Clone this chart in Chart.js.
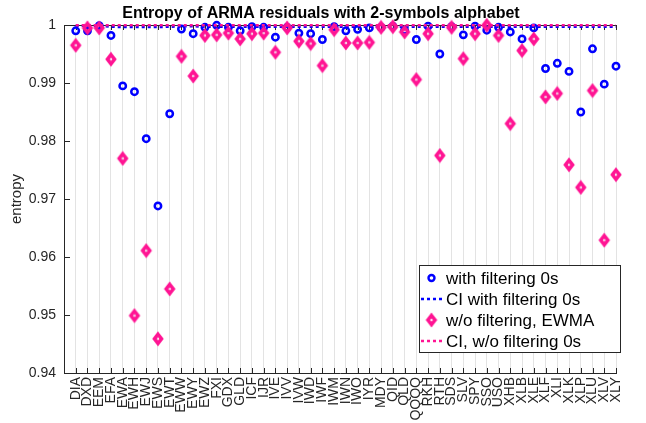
<!DOCTYPE html>
<html>
<head>
<meta charset="utf-8">
<script src="https://cdn.jsdelivr.net/npm/chart.js@4/dist/chart.umd.min.js"></script>
<style>
  html, body { margin: 0; padding: 0; background: #fff; }
  #wrap { width: 646px; height: 423px; }
</style>
</head>
<body>
<div id="wrap"><canvas id="entropy-chart" width="646" height="423"></canvas></div>
<script>
var symbols = ['DIA','DXD','EEM','EFA','EWA','EWH','EWJ','EWS','EWT','EWW','EWY','EWZ','FXI','GDX','GLD','ICF',
  'IJR','IVE','IVV','IVW','IWD','IWF','IWM','IWN','IWO','IYR','MDY','QID','QLD','QQQQ','RKH','RTH','SDS','SLV',
  'SPY','SSO','USO','XHB','XLB','XLE','XLF','XLI','XLK','XLP','XLU','XLV','XLY'];

// entropy with 0s filtered out
var entropyFiltered = [0.9990, 0.9990, 0.9999, 0.9982, 0.9895, 0.9885, 0.9804, 0.9688, 0.9847, 0.9993,
  0.9985, 0.9996, 0.99995, 0.9996, 0.9990, 0.9997, 0.9996, 0.9979, 0.9996, 0.9986, 0.9985, 0.9975, 0.9997,
  0.9990, 0.99925, 0.9995, 0.9996, 0.9998, 0.9991, 0.9975, 0.9998, 0.9950, 0.9997, 0.9983, 0.9998, 0.9991,
  0.9996, 0.9988, 0.9976, 0.9995, 0.9925, 0.9934, 0.9920, 0.9850, 0.9959, 0.9898, 0.9929];

// entropy without filtering, EWMA
var entropyEwma = [0.9965, 0.9995, 0.9995, 0.9941, 0.9770, 0.9499, 0.9611, 0.9459, 0.9545, 0.9946,
  0.9912, 0.9982, 0.9983, 0.9986, 0.9976, 0.9985, 0.9986, 0.9953, 0.9995, 0.9972, 0.9968, 0.9930, 0.9992,
  0.9969, 0.9969, 0.9970, 0.9996, 0.9997, 0.9988, 0.9906, 0.9985, 0.9775, 0.9996, 0.9942, 0.9985, 0.99995,
  0.9982, 0.9830, 0.9956, 0.9976, 0.9876, 0.9882, 0.9759, 0.9720, 0.9887, 0.9629, 0.9742];

// confidence bounds
var ciFiltered = [0.99985, 0.99985, 0.99985, 0.9997, 0.99965, 0.99965, 0.99965, 0.99965, 0.9997, 0.9998,
  0.9998, 0.9997, 0.9997, 0.9997, 0.9997, 0.9997, 0.9997, 0.9997, 0.9997, 0.9997, 0.9997, 0.9997, 0.9997,
  0.9997, 0.9997, 0.9997, 0.9997, 0.9997, 0.9997, 0.9997, 0.9997, 0.9997, 0.9997, 0.9997, 0.9997, 0.9997,
  0.9997, 0.9997, 0.9997, 0.9997, 0.9997, 0.9997, 0.9997, 0.9997, 0.9997, 0.9997, 0.9997];
var ciEwma = [0.99995, 0.99995, 0.99995, 0.99995, 0.99995, 0.99995, 0.99995, 0.99995, 0.99995, 0.99995,
  0.99995, 0.99995, 0.99995, 0.99995, 0.99995, 0.99995, 0.99995, 0.99995, 0.99995, 0.99995, 0.99995, 0.99995,
  0.99995, 0.99995, 0.99995, 0.99995, 0.99995, 0.99995, 0.99995, 0.99995, 0.99995, 0.99995, 0.99995, 0.99995,
  0.99995, 0.99995, 0.99995, 0.99995, 0.99995, 0.99995, 0.99995, 0.99995, 0.99995, 0.99995, 0.99995, 0.99995, 0.99995];

var yTicks = [0.94, 0.95, 0.96, 0.97, 0.98, 0.99, 1];

var BLUE = '#0000ff', PINK = '#ff1493', AXIS = '#262626';
var FONT = '"Liberation Sans", Arial, sans-serif';

function toPoints(values) {
  return values.map(function (v, i) { return { x: i + 1, y: v }; });
}

// tall diamond marker, thick outline with a tiny hollow centre
function makeDiamond(w, h, lw) {
  var c = document.createElement('canvas');
  c.width = w + lw * 2;
  c.height = h + lw * 2;
  var g = c.getContext('2d');
  var cx = c.width / 2, cy = c.height / 2;
  g.beginPath();
  g.moveTo(cx, cy - h / 2);
  g.lineTo(cx + w / 2, cy);
  g.lineTo(cx, cy + h / 2);
  g.lineTo(cx - w / 2, cy);
  g.closePath();
  g.lineWidth = lw;
  g.strokeStyle = PINK;
  g.lineJoin = 'miter';
  g.stroke();
  return c;
}
var diamond = makeDiamond(7, 9, 3.6);

var decorations = {
  id: 'decorations',
  beforeDatasetsDraw: function (chart) {
    var ctx = chart.ctx, a = chart.chartArea;
    var xs = chart.scales.x, ys = chart.scales.y;
    ctx.save();
    ctx.strokeStyle = AXIS;
    ctx.lineWidth = 1;
    // top axis line
    ctx.beginPath();
    ctx.moveTo(a.left, a.top + 0.5);
    ctx.lineTo(a.right, a.top + 0.5);
    ctx.stroke();
    // inward tick marks
    ctx.beginPath();
    for (var i = 0; i < symbols.length; i++) {
      var px = Math.round(xs.getPixelForValue(i + 1)) + 0.5;
      ctx.moveTo(px, a.bottom);
      ctx.lineTo(px, a.bottom - 5);
      ctx.moveTo(px, a.top);
      ctx.lineTo(px, a.top + 5);
    }
    yTicks.forEach(function (t) {
      var py = Math.round(ys.getPixelForValue(t)) + 0.5;
      ctx.moveTo(a.left, py);
      ctx.lineTo(a.left + 6, py);
    });
    ctx.stroke();
    ctx.restore();
  },
  afterDraw: function (chart) {
    var ctx = chart.ctx, a = chart.chartArea;
    ctx.save();

    // title
    ctx.fillStyle = '#000';
    ctx.font = 'bold 16px ' + FONT;
    ctx.textAlign = 'center';
    ctx.textBaseline = 'alphabetic';
    ctx.fillText('Entropy of ARMA residuals with 2-symbols alphabet', 321, 18);

    // y axis label
    ctx.fillStyle = AXIS;
    ctx.font = '15px ' + FONT;
    ctx.translate(17, (a.top + a.bottom) / 2);
    ctx.rotate(-Math.PI / 2);
    ctx.textBaseline = 'middle';
    ctx.fillText('entropy', 0, 0);
    ctx.setTransform(1, 0, 0, 1, 0, 0);

    // legend box
    var bx = 419.5, by = 265.5, bw = 201, bh = 87;
    ctx.fillStyle = '#fff';
    ctx.fillRect(bx, by, bw, bh);
    ctx.strokeStyle = AXIS;
    ctx.lineWidth = 1;
    ctx.strokeRect(bx, by, bw, bh);

    var rows = [
      { text: 'with filtering 0s', kind: 'circle', color: BLUE },
      { text: 'CI with filtering 0s', kind: 'line', color: BLUE },
      { text: 'w/o filtering, EWMA', kind: 'diamond', color: PINK },
      { text: 'CI, w/o filtering 0s', kind: 'line', color: PINK }
    ];
    var mx = 431.5;
    ctx.font = '17px ' + FONT;
    ctx.textAlign = 'left';
    ctx.textBaseline = 'middle';
    rows.forEach(function (r, i) {
      var ry = 278 + i * 21;
      if (r.kind === 'circle') {
        ctx.beginPath();
        ctx.arc(mx, ry, 3, 0, Math.PI * 2);
        ctx.strokeStyle = r.color;
        ctx.lineWidth = 2.4;
        ctx.stroke();
      } else if (r.kind === 'diamond') {
        ctx.drawImage(diamond, mx - diamond.width / 2, ry - diamond.height / 2);
      } else {
        ctx.beginPath();
        ctx.setLineDash([3, 3]);
        ctx.moveTo(421, ry);
        ctx.lineTo(442, ry);
        ctx.strokeStyle = r.color;
        ctx.lineWidth = 2.5;
        ctx.stroke();
        ctx.setLineDash([]);
      }
      ctx.fillStyle = '#000';
      ctx.fillText(r.text, 446, ry + 1);
    });
    ctx.restore();
  }
};

var chartOptions = {
  type: 'scatter',
  data: {
    datasets: [{
      label: 'with filtering 0s',
      data: toPoints(entropyFiltered),
      pointStyle: 'circle',
      pointRadius: 3.2,
      pointBorderWidth: 2.5,
      pointBorderColor: BLUE,
      pointBackgroundColor: 'rgba(255,255,255,0)',
      showLine: false,
      clip: false,
      order: 4
    }, {
      label: 'CI with filtering 0s',
      data: toPoints(ciFiltered),
      showLine: true,
      borderColor: BLUE,
      borderWidth: 2.5,
      borderDash: [3, 3],
      pointRadius: 0,
      clip: false,
      order: 3
    }, {
      label: 'w/o filtering, EWMA',
      data: toPoints(entropyEwma),
      pointStyle: diamond,
      showLine: false,
      clip: false,
      order: 2
    }, {
      label: 'CI, w/o filtering 0s',
      data: toPoints(ciEwma),
      showLine: true,
      borderColor: PINK,
      borderWidth: 2.5,
      borderDash: [3, 3],
      pointRadius: 0,
      clip: false,
      order: 1
    }]
  },
  options: {
    responsive: false,
    animation: false,
    layout: { padding: { left: 0, right: 30, top: 25, bottom: 0 } },
    plugins: {
      legend: { display: false },
      title: { display: false },
      tooltip: { enabled: false }
    },
    scales: {
      x: {
        type: 'linear',
        min: 0,
        max: symbols.length,
        afterBuildTicks: function (scale) {
          scale.ticks = symbols.map(function (s, i) { return { value: i + 1 }; });
        },
        afterFit: function (scale) { scale.height = 50; },
        ticks: {
          autoSkip: false,
          minRotation: 90,
          maxRotation: 90,
          padding: 4,
          color: AXIS,
          font: { family: FONT, size: 14 },
          callback: function (v) { return symbols[v - 1] || ''; }
        },
        grid: { color: '#e3e3e3', lineWidth: 1, drawTicks: false },
        border: { color: AXIS, width: 1 }
      },
      y: {
        min: 0.94,
        max: 1,
        afterBuildTicks: function (scale) {
          scale.ticks = yTicks.map(function (t) { return { value: t }; });
        },
        afterFit: function (scale) { scale.width = 64; },
        ticks: {
          padding: 8,
          color: AXIS,
          font: { family: FONT, size: 14 },
          callback: function (v) { return String(Number(v.toFixed(2))); }
        },
        grid: { display: false, drawTicks: false },
        border: { color: AXIS, width: 1 }
      }
    }
  },
  plugins: [decorations]
};

var canvas = document.getElementById('entropy-chart');
var entropyChart = new Chart(canvas, chartOptions);
</script>
</body>
</html>
